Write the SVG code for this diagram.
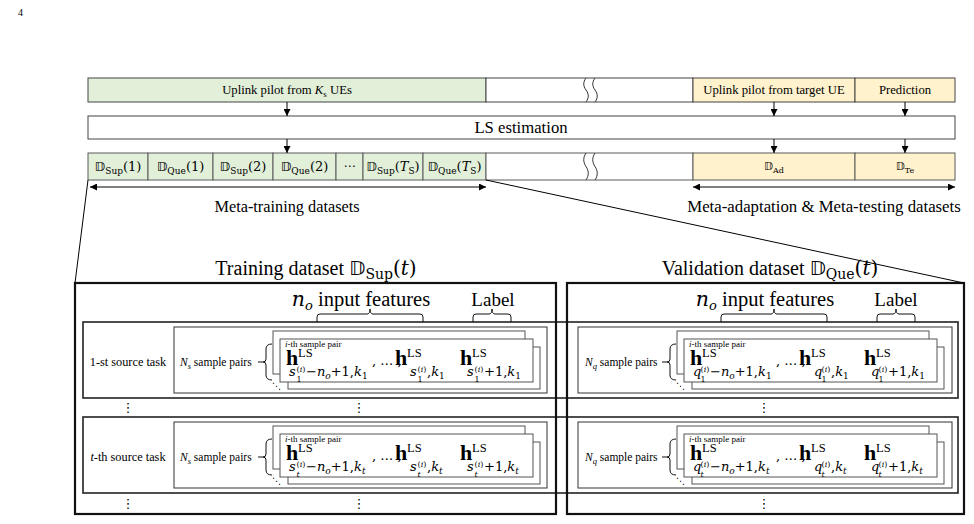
<svg xmlns="http://www.w3.org/2000/svg" width="974" height="524" viewBox="0 0 974 524">
<defs>
<marker id="ah" viewBox="0 0 10 10" refX="10" refY="5" markerWidth="7" markerHeight="7" markerUnits="userSpaceOnUse" orient="auto-start-reverse">
<path d="M0,0 L10,5 L0,10 z" fill="#000"/>
</marker>
<style>
.t{font-family:"Liberation Serif","Times New Roman",serif;fill:#000}
.m{font-family:"DejaVu Serif","Liberation Serif",serif;fill:#000}
.ds{font-family:"DejaVu Sans","DejaVu Serif",sans-serif}
.cell{stroke:#444;stroke-width:1}
.cell2{stroke:#5a5a5a;stroke-width:1}
.g{fill:#E2EFD9}
.y{fill:#FFF2CC}
.w{fill:#fff}
.ln{stroke:#000;stroke-width:1;fill:none}
.arr{stroke:#000;stroke-width:1;fill:none;marker-end:url(#ah)}
.darr{stroke:#000;stroke-width:1;fill:none;marker-end:url(#ah);marker-start:url(#ah)}
.brk{stroke:#333;stroke-width:1;fill:none}
.big{stroke:#111;stroke-width:2.2;fill:none}
.task{stroke:#222;stroke-width:1.6;fill:#fff}
.inner{stroke:#333;stroke-width:1;fill:#fff}
.sh{stroke:#555;stroke-width:1;fill:#fff}
.brace{stroke:#111;stroke-width:1;fill:none}
.hb{font-family:"Liberation Serif",serif;font-weight:bold;font-size:22px}
.ls{font-family:"Liberation Serif",serif;font-size:12.5px}
.it{font-style:italic}
.dots{font-family:"DejaVu Sans",sans-serif;font-size:13px;fill:#000}
</style>
</defs>

<text class="t" x="18" y="16" font-size="10" fill="#555">4</text>

<!-- top bar -->
<g id="top-bar">
<rect class="cell g" x="88" y="78" width="398" height="24"/>
<rect class="cell w" x="486" y="78" width="207" height="24"/>
<rect class="cell y" x="693" y="78" width="162" height="24"/>
<rect class="cell y" x="855" y="78" width="100" height="24"/>
<path class="brk" d="M586,78 c-3,4 -3,8 0,12 c3,4 3,8 0,12 M595,78 c-3,4 -3,8 0,12 c3,4 3,8 0,12"/>
<text class="t" x="287" y="94" font-size="12.7" text-anchor="middle">Uplink pilot from <tspan font-style="italic">K</tspan><tspan font-size="9" dy="3">s</tspan><tspan dy="-3"> UEs</tspan></text>
<text class="t" x="774" y="94" font-size="12.7" text-anchor="middle">Uplink pilot from target UE</text>
<text class="t" x="905" y="94" font-size="12.7" text-anchor="middle">Prediction</text>
</g>

<!-- LS estimation -->
<g id="ls-estimation">
<rect class="cell w" x="88" y="116" width="867" height="23"/>
<text class="t" x="521" y="133" font-size="16.7" text-anchor="middle">LS estimation</text>
</g>

<!-- dataset row -->
<g id="dataset-row">
<rect class="cell2 g" x="88" y="153" width="60" height="27"/>
<rect class="cell2 g" x="148" y="153" width="65" height="27"/>
<rect class="cell2 g" x="213" y="153" width="60" height="27"/>
<rect class="cell2 g" x="273" y="153" width="63" height="27"/>
<rect class="cell2 g" x="336" y="153" width="27" height="27"/>
<rect class="cell2 g" x="363" y="153" width="60" height="27"/>
<rect class="cell2 g" x="423" y="153" width="63" height="27"/>
<rect class="cell2 w" x="486" y="153" width="207" height="27"/>
<rect class="cell2 y" x="693" y="153" width="162" height="27"/>
<rect class="cell2 y" x="855" y="153" width="100" height="27"/>
<path class="brk" d="M586,153 c-3,4.5 -3,9 0,13.5 c3,4.5 3,9 0,13.5 M595,153 c-3,4.5 -3,9 0,13.5 c3,4.5 3,9 0,13.5"/>
<g class="m" font-size="13">
<text x="118" y="171" text-anchor="middle"><tspan class="ds">𝔻</tspan><tspan font-size="9" dy="3">Sup</tspan><tspan dy="-3">(1)</tspan></text>
<text x="180.5" y="171" text-anchor="middle"><tspan class="ds">𝔻</tspan><tspan font-size="9" dy="3">Que</tspan><tspan dy="-3">(1)</tspan></text>
<text x="243" y="171" text-anchor="middle"><tspan class="ds">𝔻</tspan><tspan font-size="9" dy="3">Sup</tspan><tspan dy="-3">(2)</tspan></text>
<text x="304.5" y="171" text-anchor="middle"><tspan class="ds">𝔻</tspan><tspan font-size="9" dy="3">Que</tspan><tspan dy="-3">(2)</tspan></text>
<text class="ds" x="349.5" y="170" text-anchor="middle" font-size="12">⋯</text>
<text x="393" y="171" text-anchor="middle"><tspan class="ds">𝔻</tspan><tspan font-size="9" dy="3">Sup</tspan><tspan dy="-3">(</tspan><tspan font-style="italic">T</tspan><tspan font-size="9" dy="3">S</tspan><tspan dy="-3">)</tspan></text>
<text x="454.5" y="171" text-anchor="middle"><tspan class="ds">𝔻</tspan><tspan font-size="9" dy="3">Que</tspan><tspan dy="-3">(</tspan><tspan font-style="italic">T</tspan><tspan font-size="9" dy="3">S</tspan><tspan dy="-3">)</tspan></text>
<text x="774" y="170" text-anchor="middle" font-size="11"><tspan class="ds">𝔻</tspan><tspan font-size="8" dy="3">Ad</tspan></text>
<text x="905" y="170" text-anchor="middle" font-size="11"><tspan class="ds">𝔻</tspan><tspan font-size="8" dy="3">Te</tspan></text>
</g>
</g>

<!-- range labels -->
<g id="meta-training-label">
<text class="t" x="287" y="212" font-size="16.3" text-anchor="middle">Meta-training datasets</text>
</g>
<g id="meta-testing-label">
<text class="t" x="824" y="212" font-size="16.8" text-anchor="middle">Meta-adaptation &amp; Meta-testing datasets</text>
</g>

<!-- task rows (span both dataset boxes) -->
<g id="task-row-1">
<rect class="task" x="83" y="322" width="875" height="76"/>
<text class="t" x="128" y="366" font-size="12.3" text-anchor="middle">1-st source task</text>
</g>
<g id="task-row-t">
<rect class="task" x="83" y="417" width="875" height="76"/>
<text class="t" x="128" y="461" font-size="12.3" text-anchor="middle"><tspan font-style="italic">t</tspan>-th source task</text>
</g>

<!-- training dataset box -->
<g id="training-dataset">
<rect class="big" x="75" y="283" width="481" height="231"/>
<text class="t" x="316" y="275" font-size="20" text-anchor="middle">Training dataset <tspan class="ds">𝔻</tspan><tspan class="m" font-size="14" dy="4">Sup</tspan><tspan class="m" dy="-4">(</tspan><tspan class="m" font-style="italic">t</tspan><tspan class="m">)</tspan></text>
<text class="t" x="361" y="306" font-size="20.5" text-anchor="middle"><tspan class="m" font-style="italic">n</tspan><tspan class="m" font-style="italic" font-size="13" dy="4">o</tspan><tspan dy="-4"> input features</tspan></text>
<text class="t" x="493" y="306" font-size="19" text-anchor="middle">Label</text>
<path class="brace" d="M317,322 L317,317 Q317,314 320,314 L367,314 Q370,314 370,309 Q370,314 373,314 L420,314 Q423,314 423,317 L423,322"/>
<path class="brace" d="M473,322 L473,317 Q473,314 476,314 L489,314 Q492,314 492,309 Q492,314 495,314 L508,314 Q511,314 511,317 L511,322"/>
</g>

<!-- validation dataset box -->
<g id="validation-dataset">
<rect class="big" x="567" y="283" width="397" height="231"/>
<text class="t" x="770" y="275" font-size="20" text-anchor="middle">Validation dataset <tspan class="ds">𝔻</tspan><tspan class="m" font-size="14" dy="4">Que</tspan><tspan class="m" dy="-4">(</tspan><tspan class="m" font-style="italic">t</tspan><tspan class="m">)</tspan></text>
<text class="t" x="765" y="306" font-size="20.5" text-anchor="middle"><tspan class="m" font-style="italic">n</tspan><tspan class="m" font-style="italic" font-size="13" dy="4">o</tspan><tspan dy="-4"> input features</tspan></text>
<text class="t" x="896" y="306" font-size="19" text-anchor="middle">Label</text>
<path class="brace" d="M721,322 L721,317 Q721,314 724,314 L771,314 Q774,314 774,309 Q774,314 777,314 L824,314 Q827,314 827,317 L827,322"/>
<path class="brace" d="M877,322 L877,317 Q877,314 880,314 L893,314 Q896,314 896,309 Q896,314 899,314 L912,314 Q915,314 915,317 L915,322"/>
</g>

<!-- sample-pair blocks -->
<g id="train-task1-samples" transform="translate(280,339)">
<rect class="inner" x="-106" y="-12" width="373" height="66"/>
<text class="t" x="-100" y="27" font-size="11.5"><tspan font-style="italic">N</tspan><tspan font-style="italic" font-size="8.5" dy="3">s</tspan><tspan dy="-3"> sample pairs</tspan></text>
<path class="brace" d="M-8,5 Q-14,5 -14,10 L-14,20 Q-14,23 -17,23 L-22,23 M-17,23 Q-14,23 -14,26 L-14,36 Q-14,41 -8,41"/>
<rect class="sh" x="-7" y="-8" width="252" height="43"/>
<rect class="sh" x="8" y="8" width="252" height="42"/>
<rect class="sh" x="0" y="0" width="253" height="43" stroke="#333"/>
<text class="ds" x="-8" y="50" font-size="9">⋱</text>
<text class="t" x="5" y="8" font-size="9"><tspan font-style="italic">i</tspan>-th sample pair</text>
<text class="hb" x="6" y="26">h</text><text class="ls" x="18" y="18">LS</text>
<text class="m it" x="9" y="37" font-size="13">s</text><text class="m" x="16.5" y="32.5" font-size="8">(<tspan font-style="italic">i</tspan>)</text><text class="m" x="16.5" y="42.5" font-size="8">1</text>
<text class="m" x="26" y="37" font-size="13">−<tspan font-style="italic">n</tspan><tspan font-style="italic" font-size="9" dy="3">o</tspan><tspan dy="-3">+1,</tspan><tspan font-style="italic">k</tspan><tspan font-size="9" dy="3">1</tspan></text>
<text class="m" x="92" y="26" font-size="13">, … ,</text>
<text class="hb" x="115" y="26">h</text><text class="ls" x="127" y="18">LS</text>
<text class="m it" x="130" y="37" font-size="13">s</text><text class="m" x="137.5" y="32.5" font-size="8">(<tspan font-style="italic">i</tspan>)</text><text class="m" x="137.5" y="42.5" font-size="8">1</text>
<text class="m" x="147" y="37" font-size="13">,<tspan font-style="italic">k</tspan><tspan font-size="9" dy="3">1</tspan></text>
<text class="hb" x="180" y="26">h</text><text class="ls" x="192" y="18">LS</text>
<text class="m it" x="187" y="37" font-size="13">s</text><text class="m" x="194.5" y="32.5" font-size="8">(<tspan font-style="italic">i</tspan>)</text><text class="m" x="194.5" y="42.5" font-size="8">1</text>
<text class="m" x="204" y="37" font-size="13">+1,<tspan font-style="italic">k</tspan><tspan font-size="9" dy="3">1</tspan></text>
</g>

<g id="train-taskt-samples" transform="translate(280,434)">
<rect class="inner" x="-106" y="-12" width="373" height="66"/>
<text class="t" x="-100" y="27" font-size="11.5"><tspan font-style="italic">N</tspan><tspan font-style="italic" font-size="8.5" dy="3">s</tspan><tspan dy="-3"> sample pairs</tspan></text>
<path class="brace" d="M-8,5 Q-14,5 -14,10 L-14,20 Q-14,23 -17,23 L-22,23 M-17,23 Q-14,23 -14,26 L-14,36 Q-14,41 -8,41"/>
<rect class="sh" x="-7" y="-8" width="252" height="43"/>
<rect class="sh" x="8" y="8" width="252" height="42"/>
<rect class="sh" x="0" y="0" width="253" height="43" stroke="#333"/>
<text class="ds" x="-8" y="50" font-size="9">⋱</text>
<text class="t" x="5" y="8" font-size="9"><tspan font-style="italic">i</tspan>-th sample pair</text>
<text class="hb" x="6" y="26">h</text><text class="ls" x="18" y="18">LS</text>
<text class="m it" x="9" y="37" font-size="13">s</text><text class="m" x="16.5" y="32.5" font-size="8">(<tspan font-style="italic">i</tspan>)</text><text class="m it" x="16.5" y="42.5" font-size="8">t</text>
<text class="m" x="26" y="37" font-size="13">−<tspan font-style="italic">n</tspan><tspan font-style="italic" font-size="9" dy="3">o</tspan><tspan dy="-3">+1,</tspan><tspan font-style="italic">k</tspan><tspan font-style="italic" font-size="9" dy="3">t</tspan></text>
<text class="m" x="92" y="26" font-size="13">, … ,</text>
<text class="hb" x="115" y="26">h</text><text class="ls" x="127" y="18">LS</text>
<text class="m it" x="130" y="37" font-size="13">s</text><text class="m" x="137.5" y="32.5" font-size="8">(<tspan font-style="italic">i</tspan>)</text><text class="m it" x="137.5" y="42.5" font-size="8">t</text>
<text class="m" x="147" y="37" font-size="13">,<tspan font-style="italic">k</tspan><tspan font-style="italic" font-size="9" dy="3">t</tspan></text>
<text class="hb" x="180" y="26">h</text><text class="ls" x="192" y="18">LS</text>
<text class="m it" x="187" y="37" font-size="13">s</text><text class="m" x="194.5" y="32.5" font-size="8">(<tspan font-style="italic">i</tspan>)</text><text class="m it" x="194.5" y="42.5" font-size="8">t</text>
<text class="m" x="204" y="37" font-size="13">+1,<tspan font-style="italic">k</tspan><tspan font-style="italic" font-size="9" dy="3">t</tspan></text>
</g>

<g id="val-task1-samples" transform="translate(684,339)">
<rect class="inner" x="-106" y="-12" width="374" height="66"/>
<text class="t" x="-99" y="27" font-size="11.5"><tspan font-style="italic">N</tspan><tspan font-style="italic" font-size="8.5" dy="3">q</tspan><tspan dy="-3"> sample pairs</tspan></text>
<path class="brace" d="M-8,5 Q-14,5 -14,10 L-14,20 Q-14,23 -17,23 L-22,23 M-17,23 Q-14,23 -14,26 L-14,36 Q-14,41 -8,41"/>
<rect class="sh" x="-7" y="-8" width="252" height="43"/>
<rect class="sh" x="8" y="8" width="252" height="42"/>
<rect class="sh" x="0" y="0" width="253" height="43" stroke="#333"/>
<text class="ds" x="-8" y="50" font-size="9">⋱</text>
<text class="t" x="5" y="8" font-size="9"><tspan font-style="italic">i</tspan>-th sample pair</text>
<text class="hb" x="6" y="26">h</text><text class="ls" x="18" y="18">LS</text>
<text class="m it" x="9" y="37" font-size="13">q</text><text class="m" x="16.5" y="32.5" font-size="8">(<tspan font-style="italic">i</tspan>)</text><text class="m" x="16.5" y="42.5" font-size="8">1</text>
<text class="m" x="26" y="37" font-size="13">−<tspan font-style="italic">n</tspan><tspan font-style="italic" font-size="9" dy="3">o</tspan><tspan dy="-3">+1,</tspan><tspan font-style="italic">k</tspan><tspan font-size="9" dy="3">1</tspan></text>
<text class="m" x="92" y="26" font-size="13">, … ,</text>
<text class="hb" x="115" y="26">h</text><text class="ls" x="127" y="18">LS</text>
<text class="m it" x="130" y="37" font-size="13">q</text><text class="m" x="137.5" y="32.5" font-size="8">(<tspan font-style="italic">i</tspan>)</text><text class="m" x="137.5" y="42.5" font-size="8">1</text>
<text class="m" x="147" y="37" font-size="13">,<tspan font-style="italic">k</tspan><tspan font-size="9" dy="3">1</tspan></text>
<text class="hb" x="180" y="26">h</text><text class="ls" x="192" y="18">LS</text>
<text class="m it" x="187" y="37" font-size="13">q</text><text class="m" x="194.5" y="32.5" font-size="8">(<tspan font-style="italic">i</tspan>)</text><text class="m" x="194.5" y="42.5" font-size="8">1</text>
<text class="m" x="204" y="37" font-size="13">+1,<tspan font-style="italic">k</tspan><tspan font-size="9" dy="3">1</tspan></text>
</g>

<g id="val-taskt-samples" transform="translate(684,434)">
<rect class="inner" x="-106" y="-12" width="374" height="66"/>
<text class="t" x="-99" y="27" font-size="11.5"><tspan font-style="italic">N</tspan><tspan font-style="italic" font-size="8.5" dy="3">q</tspan><tspan dy="-3"> sample pairs</tspan></text>
<path class="brace" d="M-8,5 Q-14,5 -14,10 L-14,20 Q-14,23 -17,23 L-22,23 M-17,23 Q-14,23 -14,26 L-14,36 Q-14,41 -8,41"/>
<rect class="sh" x="-7" y="-8" width="252" height="43"/>
<rect class="sh" x="8" y="8" width="252" height="42"/>
<rect class="sh" x="0" y="0" width="253" height="43" stroke="#333"/>
<text class="ds" x="-8" y="50" font-size="9">⋱</text>
<text class="t" x="5" y="8" font-size="9"><tspan font-style="italic">i</tspan>-th sample pair</text>
<text class="hb" x="6" y="26">h</text><text class="ls" x="18" y="18">LS</text>
<text class="m it" x="9" y="37" font-size="13">q</text><text class="m" x="16.5" y="32.5" font-size="8">(<tspan font-style="italic">i</tspan>)</text><text class="m it" x="16.5" y="42.5" font-size="8">t</text>
<text class="m" x="26" y="37" font-size="13">−<tspan font-style="italic">n</tspan><tspan font-style="italic" font-size="9" dy="3">o</tspan><tspan dy="-3">+1,</tspan><tspan font-style="italic">k</tspan><tspan font-style="italic" font-size="9" dy="3">t</tspan></text>
<text class="m" x="92" y="26" font-size="13">, … ,</text>
<text class="hb" x="115" y="26">h</text><text class="ls" x="127" y="18">LS</text>
<text class="m it" x="130" y="37" font-size="13">q</text><text class="m" x="137.5" y="32.5" font-size="8">(<tspan font-style="italic">i</tspan>)</text><text class="m it" x="137.5" y="42.5" font-size="8">t</text>
<text class="m" x="147" y="37" font-size="13">,<tspan font-style="italic">k</tspan><tspan font-style="italic" font-size="9" dy="3">t</tspan></text>
<text class="hb" x="180" y="26">h</text><text class="ls" x="192" y="18">LS</text>
<text class="m it" x="187" y="37" font-size="13">q</text><text class="m" x="194.5" y="32.5" font-size="8">(<tspan font-style="italic">i</tspan>)</text><text class="m it" x="194.5" y="42.5" font-size="8">t</text>
<text class="m" x="204" y="37" font-size="13">+1,<tspan font-style="italic">k</tspan><tspan font-style="italic" font-size="9" dy="3">t</tspan></text>
</g>

<!-- vertical ellipses -->
<g id="ellipses">
<text class="dots" x="128" y="412" text-anchor="middle">⋮</text>
<text class="dots" x="359" y="412" text-anchor="middle">⋮</text>
<text class="dots" x="764" y="412" text-anchor="middle">⋮</text>
<text class="dots" x="128" y="508" text-anchor="middle">⋮</text>
<text class="dots" x="359" y="508" text-anchor="middle">⋮</text>
<text class="dots" x="764" y="508" text-anchor="middle">⋮</text>
</g>

<!-- connectors -->
<g id="connectors">
<line class="arr" x1="287" y1="102" x2="287" y2="116"/>
<line class="arr" x1="774" y1="102" x2="774" y2="116"/>
<line class="arr" x1="905" y1="102" x2="905" y2="116"/>
<line class="arr" x1="287" y1="139" x2="287" y2="153"/>
<line class="arr" x1="774" y1="139" x2="774" y2="153"/>
<line class="arr" x1="905" y1="139" x2="905" y2="153"/>
<line class="darr" x1="90" y1="187" x2="486" y2="187"/>
<line class="darr" x1="693" y1="187" x2="955" y2="187"/>
<line class="ln" x1="88" y1="180" x2="75" y2="283"/>
<line class="ln" x1="486" y1="180" x2="964" y2="283"/>
</g>
</svg>
